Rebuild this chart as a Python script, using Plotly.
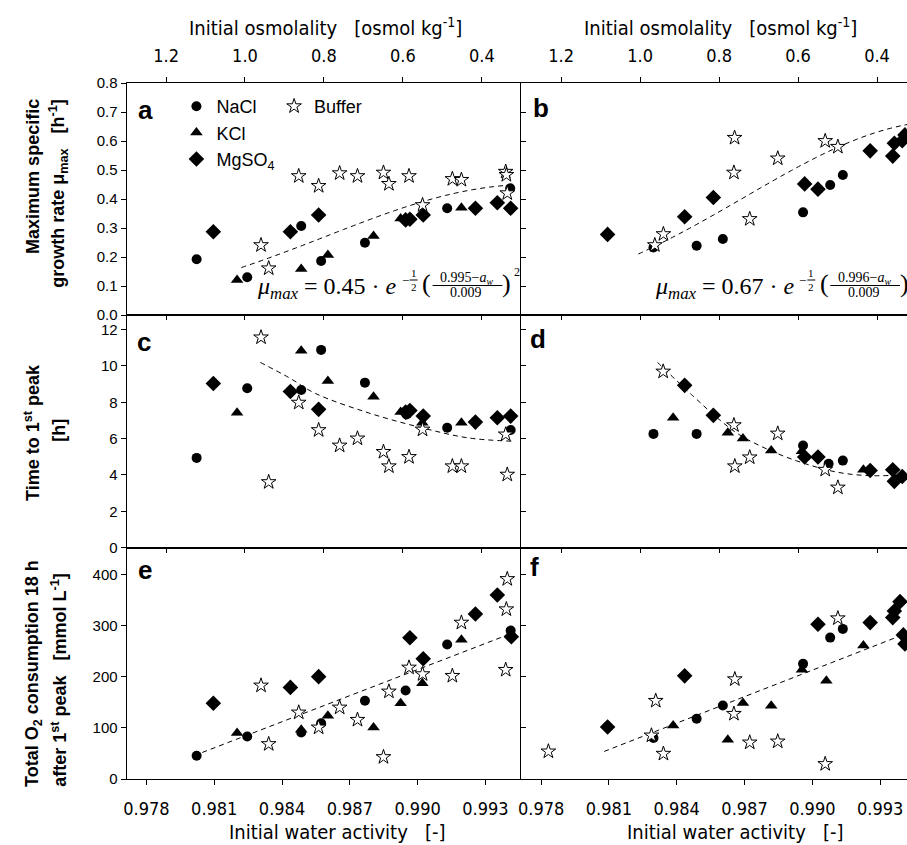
import numpy as np
import plotly.graph_objects as go

# ---------------- data ----------------
# Panel a : maximum specific growth rate [1/h], left column
a_nacl_aw = [0.98022, 0.98246, 0.98485, 0.98573, 0.98767, 0.98950, 0.99131, 0.99410]
a_nacl_y = [0.192, 0.130, 0.307, 0.186, 0.249, 0.330, 0.368, 0.437]
a_kcl_aw = [0.98201, 0.98485, 0.98603, 0.98805, 0.98925, 0.99194]
a_kcl_y = [0.121, 0.159, 0.207, 0.272, 0.333, 0.370]
a_mg_aw = [0.98096, 0.98437, 0.98562, 0.98947, 0.98966, 0.99025, 0.99256, 0.99353, 0.99412]
a_mg_y = [0.287, 0.287, 0.345, 0.328, 0.330, 0.345, 0.368, 0.387, 0.368]
a_buf_aw = [0.98307, 0.98341, 0.98474, 0.98562, 0.98655, 0.98734, 0.98849, 0.98873,
            0.98962, 0.99022, 0.99154, 0.99194, 0.99390, 0.99393, 0.99397]
a_buf_y = [0.241, 0.161, 0.479, 0.445, 0.489, 0.479, 0.491, 0.452,
           0.479, 0.379, 0.469, 0.466, 0.494, 0.483, 0.420]

# Panel b : maximum specific growth rate, right column
b_nacl_aw = [0.98297, 0.98488, 0.98604, 0.98959, 0.99079, 0.99135]
b_nacl_y = [0.233, 0.239, 0.262, 0.354, 0.448, 0.483]
b_mg_aw = [0.98094, 0.98435, 0.98562, 0.98966, 0.99025, 0.99256, 0.99356, 0.99363, 0.99398, 0.99410]
b_mg_y = [0.278, 0.339, 0.405, 0.452, 0.434, 0.566, 0.548, 0.592, 0.601, 0.621]
b_buf_aw = [0.98303, 0.98341, 0.98653, 0.98656, 0.98723, 0.98847, 0.99057, 0.99113]
b_buf_y = [0.241, 0.279, 0.491, 0.611, 0.331, 0.540, 0.600, 0.580]

# Panel c : time to 1st peak [h], left column
c_nacl_aw = [0.98022, 0.98246, 0.98485, 0.98573, 0.98767, 0.98951, 0.99131, 0.99412]
c_nacl_y = [4.94, 8.77, 8.67, 10.88, 9.08, 7.33, 6.60, 6.47]
c_kcl_aw = [0.98201, 0.98485, 0.98603, 0.98805, 0.98925, 0.99021, 0.99194]
c_kcl_y = [7.42, 10.83, 9.17, 8.31, 7.46, 6.87, 6.87]
c_mg_aw = [0.98096, 0.98437, 0.98562, 0.98947, 0.98966, 0.99025, 0.99256, 0.99353, 0.99412]
c_mg_y = [9.03, 8.59, 7.61, 7.46, 7.55, 7.24, 6.91, 7.15, 7.24]
c_buf_aw = [0.98307, 0.98341, 0.98474, 0.98562, 0.98655, 0.98734, 0.98849, 0.98873,
            0.98962, 0.99022, 0.99154, 0.99194, 0.99390, 0.99397]
c_buf_y = [11.57, 3.61, 7.98, 6.47, 5.62, 6.01, 5.27, 4.48,
           4.99, 6.50, 4.48, 4.48, 6.23, 4.02]
c_fit_aw = [0.98304, 0.98430, 0.98547, 0.98782, 0.99018, 0.99224, 0.99415]
c_fit_y = [10.19, 9.36, 8.49, 7.42, 6.60, 6.04, 5.86]

# Panel d : time to 1st peak [h], right column
d_nacl_aw = [0.98297, 0.98488, 0.98959, 0.99072, 0.99135]
d_nacl_y = [6.26, 6.26, 5.62, 4.62, 4.79]
d_kcl_aw = [0.98384, 0.98626, 0.98693, 0.98818, 0.98954, 0.99226, 0.99403]
d_kcl_y = [7.15, 6.32, 6.01, 5.34, 5.30, 4.29, 3.92]
d_mg_aw = [0.98435, 0.98562, 0.98966, 0.99025, 0.99256, 0.99356, 0.99363, 0.99398]
d_mg_y = [8.93, 7.28, 4.99, 4.99, 4.25, 4.29, 3.65, 3.92]
d_buf_aw = [0.98340, 0.98653, 0.98657, 0.98723, 0.98847, 0.99057, 0.99113]
d_buf_y = [9.69, 6.74, 4.48, 4.97, 6.28, 4.29, 3.31]
d_fit_aw = [0.98315, 0.98469, 0.98587, 0.98675, 0.98822, 0.98969, 0.99116, 0.99263, 0.99410]
d_fit_y = [10.19, 8.38, 7.06, 6.23, 5.30, 4.62, 4.14, 3.96, 4.02]

# Panel e : total O2 consumption [mmol/L], left column
e_nacl_aw = [0.98022, 0.98246, 0.98485, 0.98573, 0.98767, 0.98947, 0.99131, 0.99412]
e_nacl_y = [45.5, 83.2, 91, 109, 153, 173, 263, 290]
e_kcl_aw = [0.98201, 0.98485, 0.98603, 0.98805, 0.98925, 0.99021, 0.99194]
e_kcl_y = [89.7, 96, 123.5, 100.7, 148, 187, 272]
e_mg_aw = [0.98096, 0.98437, 0.98562, 0.98966, 0.99025, 0.99256, 0.99353, 0.99415]
e_mg_y = [148, 179, 200, 276, 235, 322.5, 359.6, 278]
e_buf_aw = [0.98307, 0.98341, 0.98474, 0.98562, 0.98655, 0.98734, 0.98849, 0.98873,
            0.98962, 0.99022, 0.99154, 0.99194, 0.99390, 0.99393, 0.99397]
e_buf_y = [182.7, 68.3, 130, 100.7, 139.7, 115.7, 42.9, 171,
           217.8, 204.9, 201.6, 305.6, 213.3, 331.7, 390.8]
e_fit_aw = [0.98047, 0.99407]
e_fit_y = [51.9, 283.0]

# Panel f : total O2 consumption [mmol/L], right column
f_nacl_aw = [0.98297, 0.98488, 0.98604, 0.98959, 0.99079, 0.99135]
f_nacl_y = [80, 117.7, 143.6, 225, 276.3, 293.3]
f_kcl_aw = [0.98384, 0.98626, 0.98693, 0.98818, 0.98954, 0.99062, 0.99226]
f_kcl_y = [104.6, 76.7, 148.3, 143, 213.3, 191.8, 260.7]
f_mg_aw = [0.98094, 0.98435, 0.99025, 0.99256, 0.99356, 0.99363, 0.99388, 0.99403, 0.99410]
f_mg_y = [101.5, 201.6, 302.4, 305.6, 315.4, 328.4, 346.6, 281.6, 264]
f_buf_aw = [0.97832, 0.98288, 0.98307, 0.98341, 0.98653, 0.98657, 0.98723, 0.98847, 0.99057, 0.99113]
f_buf_y = [53.9, 85.1, 152.8, 49.4, 127.4, 195, 71.4, 73.4, 29.3, 314.1]
f_fit_aw = [0.98079, 0.99419]
f_fit_y = [53.9, 284.9]

# Gaussian fits shown in panels a and b
a_fit_mu, a_fit_aw0, a_fit_sig, a_fit_range = 0.45, 0.995, 0.009, (0.9822, 0.9941)
b_fit_mu, b_fit_aw0, b_fit_sig, b_fit_range = 0.67, 0.996, 0.009, (0.9823, 0.9942)

aw_ticks = [0.978, 0.981, 0.984, 0.987, 0.990, 0.993]
osm_ticks = [1.2, 1.0, 0.8, 0.6, 0.4]
a_ticks = [0.0, 0.1, 0.2, 0.3, 0.4, 0.5, 0.6, 0.7, 0.8]
c_ticks = [0, 2, 4, 6, 8, 10, 12]
e_ticks = [0, 100, 200, 300, 400]

# ---------------- layout helpers ----------------
W, H = 907, 845
TOP, BOT = 83, 779
def px(x):
    return x / W
def py(y):
    return (BOT - y) / (BOT - TOP)

NARROW = "Liberation Sans Narrow, Arial Narrow, DejaVu Sans Condensed, sans-serif"
SANS = "Liberation Sans, Arial, sans-serif"
SERIF = "Liberation Serif, DejaVu Serif, serif"

colL = [px(124), px(520)]
colR = [px(520), 1.0]
rows = {"a": [py(315), 1.0], "c": [py(547.7), py(315)], "e": [0.0, py(547.7)]}
rangeL = [0.97712, 0.99459]
rangeR = [0.97712, 0.99419]
osmL = [1.300, 0.300]
osmR = [1.301, 0.324]

panels = [
    # name, idx, col, row, yrange, yticks, fmt
    ("a", 1, "L", "a", [0, 0.8], a_ticks, ".1f"),
    ("b", 2, "R", "a", [0, 0.8], a_ticks, ".1f"),
    ("c", 3, "L", "c", [0, 12.8], c_ticks, "d"),
    ("d", 4, "R", "c", [0, 12.8], c_ticks, "d"),
    ("e", 5, "L", "e", [0, 452], e_ticks, "d"),
    ("f", 6, "R", "e", [0, 452], e_ticks, "d"),
]

fig = go.Figure()
layout = {}
for name, i, col, row, yr, yt, fmt in panels:
    dom = colL if col == "L" else colR
    xr = rangeL if col == "L" else rangeR
    bottom = name in ("e", "f")
    layout[f"xaxis{i}"] = dict(
        domain=dom, anchor=f"y{i}", range=xr, showgrid=False, zeroline=False,
        showline=True, linecolor="black", linewidth=1,
        tickvals=aw_ticks if bottom else [], ticktext=[f"{v:.3f}" for v in aw_ticks] if bottom else [],
        ticks="outside" if bottom else "", ticklen=5, tickcolor="black",
        showticklabels=bottom, ticklabelstandoff=8,
        tickfont=dict(family=NARROW, size=18, color="black"),
    )
    layout[f"yaxis{i}"] = dict(
        domain=rows[row], anchor=f"x{i}", range=yr, showgrid=False, zeroline=False,
        showline=True, linecolor="black", linewidth=1,
        tickvals=yt, ticktext=[format(v, fmt) for v in yt],
        ticks="outside" if col == "L" else "inside", ticklen=5, tickcolor="black",
        showticklabels=(col == "L"), tickfont=dict(family=SANS, size=15, color="black"),
    )
    top = name in ("a", "b")
    layout[f"xaxis{i + 6}"] = dict(
        overlaying=f"x{i}", anchor=f"y{i}", side="top",
        range=osmL if col == "L" else osmR, showgrid=False, zeroline=False,
        showline=True, linecolor="black", linewidth=1,
        tickvals=osm_ticks, ticktext=[f"{v:.1f}" for v in osm_ticks],
        ticks="outside" if top else "inside", ticklen=5, tickcolor="black",
        showticklabels=top, ticklabelstandoff=8,
        tickfont=dict(family=NARROW, size=18, color="black"),
    )
    # empty trace so the osmolality overlay axis is created
    fig.add_trace(go.Scatter(x=[], y=[], xaxis=f"x{i + 6}", yaxis=f"y{i}",
                             showlegend=False, hoverinfo="skip"))

sty = {
    "NaCl": dict(symbol="circle", size=10, color="black", line=dict(width=0)),
    "KCl": dict(symbol="triangle-up", size=11, color="black", line=dict(width=0)),
    "MgSO4": dict(symbol="diamond", size=12, color="black", line=dict(width=0)),
    "Buffer": dict(symbol="star", size=11, color="white", line=dict(width=1, color="black")),
}
labels = {"NaCl": "NaCl", "KCl": "KCl", "MgSO4": "MgSO<sub>4</sub>", "Buffer": "Buffer"}

series = {
    1: [("MgSO4", a_mg_aw, a_mg_y), ("KCl", a_kcl_aw, a_kcl_y), ("NaCl", a_nacl_aw, a_nacl_y), ("Buffer", a_buf_aw, a_buf_y)],
    2: [("MgSO4", b_mg_aw, b_mg_y), ("NaCl", b_nacl_aw, b_nacl_y), ("Buffer", b_buf_aw, b_buf_y)],
    3: [("MgSO4", c_mg_aw, c_mg_y), ("KCl", c_kcl_aw, c_kcl_y), ("NaCl", c_nacl_aw, c_nacl_y), ("Buffer", c_buf_aw, c_buf_y)],
    4: [("MgSO4", d_mg_aw, d_mg_y), ("KCl", d_kcl_aw, d_kcl_y), ("NaCl", d_nacl_aw, d_nacl_y), ("Buffer", d_buf_aw, d_buf_y)],
    5: [("MgSO4", e_mg_aw, e_mg_y), ("KCl", e_kcl_aw, e_kcl_y), ("NaCl", e_nacl_aw, e_nacl_y), ("Buffer", e_buf_aw, e_buf_y)],
    6: [("MgSO4", f_mg_aw, f_mg_y), ("KCl", f_kcl_aw, f_kcl_y), ("NaCl", f_nacl_aw, f_nacl_y), ("Buffer", f_buf_aw, f_buf_y)],
}

# fitted curves (dashed)
def gauss(mu, aw0, sig, rng):
    aw = np.linspace(rng[0], rng[1], 80)
    return aw, mu * np.exp(-0.5 * ((aw0 - aw) / sig) ** 2)

fits = {
    1: gauss(a_fit_mu, a_fit_aw0, a_fit_sig, a_fit_range),
    2: gauss(b_fit_mu, b_fit_aw0, b_fit_sig, b_fit_range),
    3: (c_fit_aw, c_fit_y),
    4: (d_fit_aw, d_fit_y),
    5: (e_fit_aw, e_fit_y),
    6: (f_fit_aw, f_fit_y),
}
for i, (fx, fy) in fits.items():
    fig.add_trace(go.Scatter(x=fx, y=fy, mode="lines", xaxis=f"x{i}", yaxis=f"y{i}",
                             line=dict(color="black", width=1, dash="5px,4px", shape="spline"),
                             showlegend=False, hoverinfo="skip"))

legend_order = ["NaCl", "KCl", "MgSO4", "Buffer"]
for i, lst in series.items():
    for key, xs, ys in lst:
        fig.add_trace(go.Scatter(
            x=xs, y=ys, mode="markers", name=labels[key], xaxis=f"x{i}", yaxis=f"y{i}",
            marker=sty[key], showlegend=(i == 1),
            legend="legend2" if key == "Buffer" else "legend",
            legendrank=legend_order.index(key),
        ))

ann = []
# panel letters
for letter, x, y in [("a", 133, 110), ("b", 530, 108), ("c", 132, 342), ("d", 527, 339), ("e", 133, 570), ("f", 527, 567)]:
    ann.append(dict(text=f"<b>{letter}</b>", x=px(x), y=py(y), xref="paper", yref="paper",
                    xanchor="left", yanchor="middle", showarrow=False,
                    font=dict(family=SANS, size=26, color="black")))

# axis titles
for x in (324, 720):
    ann.append(dict(text="Initial osmolality   [osmol kg<sup>-1</sup>]", x=px(x), y=py(27),
                    xref="paper", yref="paper", xanchor="center", yanchor="middle", showarrow=False,
                    font=dict(family=NARROW, size=20, color="black")))
for x in (335, 734):
    ann.append(dict(text="Initial water activity   [-]", x=px(x), y=py(832),
                    xref="paper", yref="paper", xanchor="center", yanchor="middle", showarrow=False,
                    font=dict(family=NARROW, size=20, color="black")))

ytitles = [
    ("Maximum specific", 30, 176),
    ("growth rate μ<sub>max</sub>   [h<sup>-1</sup>]", 56, 194),
    ("Time to 1<sup>st</sup> peak", 30, 432),
    ("[h]", 56, 430),
    ("Total O<sub>2</sub> consumption 18 h", 30, 673),
    ("after 1<sup>st</sup> peak   [mmol L<sup>-1</sup>]", 56, 680),
]
for t, x, y in ytitles:
    ann.append(dict(text=f"<b>{t}</b>", x=px(x), y=py(y), xref="paper", yref="paper",
                    xanchor="center", yanchor="middle", textangle=-90, showarrow=False,
                    font=dict(family=SANS, size=18, color="black")))

# formula annotations
def formula(x0, mu, aw0, sig, squared):
    f = dict(family=SERIF, color="black")
    out = []
    out.append(dict(text=f"<i>μ<sub>max</sub></i> = {mu:.2f} · <i>e</i>", x=px(x0), y=py(305),
                    xanchor="left", yanchor="bottom", font=dict(size=24, **f)))
    out.append(dict(text="−", x=px(x0 + 145), y=py(280), xanchor="left", yanchor="middle", font=dict(size=13, **f)))
    out.append(dict(text="1<br>2", x=px(x0 + 159), y=py(280), xanchor="center", yanchor="middle",
                    font=dict(size=11, **f)))
    out.append(dict(text="(", x=px(x0 + 172), y=py(283), xanchor="center", yanchor="middle", font=dict(size=26, **f)))
    out.append(dict(text=f"{aw0:.3f}−<i>a<sub>w</sub></i>", x=px(x0 + 212), y=py(278), xanchor="center",
                    yanchor="middle", font=dict(size=14, **f)))
    out.append(dict(text=f"{sig:.3f}", x=px(x0 + 212), y=py(292), xanchor="center", yanchor="middle",
                    font=dict(size=14, **f)))
    out.append(dict(text=")", x=px(x0 + 252), y=py(283), xanchor="center", yanchor="middle", font=dict(size=26, **f)))
    if squared:
        out.append(dict(text="2", x=px(x0 + 258), y=py(272), xanchor="left", yanchor="middle", font=dict(size=12, **f)))
    for o in out:
        o.update(xref="paper", yref="paper", showarrow=False)
    return out

ann += formula(253, a_fit_mu, a_fit_aw0, a_fit_sig, True)
ann += formula(652, b_fit_mu, b_fit_aw0, b_fit_sig, False)

shapes = []
for x0 in (253, 652):
    for (xa, xb, y) in [(x0 + 155, x0 + 163, 280), (x0 + 178, x0 + 248, 285.5)]:
        shapes.append(dict(type="line", xref="paper", yref="paper", x0=px(xa), x1=px(xb),
                           y0=py(y), y1=py(y), line=dict(color="black", width=1)))

layout.update(
    width=W, height=H, margin=dict(l=0, r=0, t=TOP, b=H - BOT),
    paper_bgcolor="white", plot_bgcolor="white",
    annotations=ann, shapes=shapes,
    legend=dict(x=px(174), y=py(88), xanchor="left", yanchor="top", bgcolor="rgba(0,0,0,0)",
                font=dict(family=SANS, size=18, color="black"), tracegroupgap=0, itemwidth=30),
    legend2=dict(x=px(272), y=py(88), xanchor="left", yanchor="top", bgcolor="rgba(0,0,0,0)",
                 font=dict(family=SANS, size=18, color="black"), itemwidth=30),
    showlegend=True,
)
fig.update_layout(**layout)
fig.write_html("out.html")
